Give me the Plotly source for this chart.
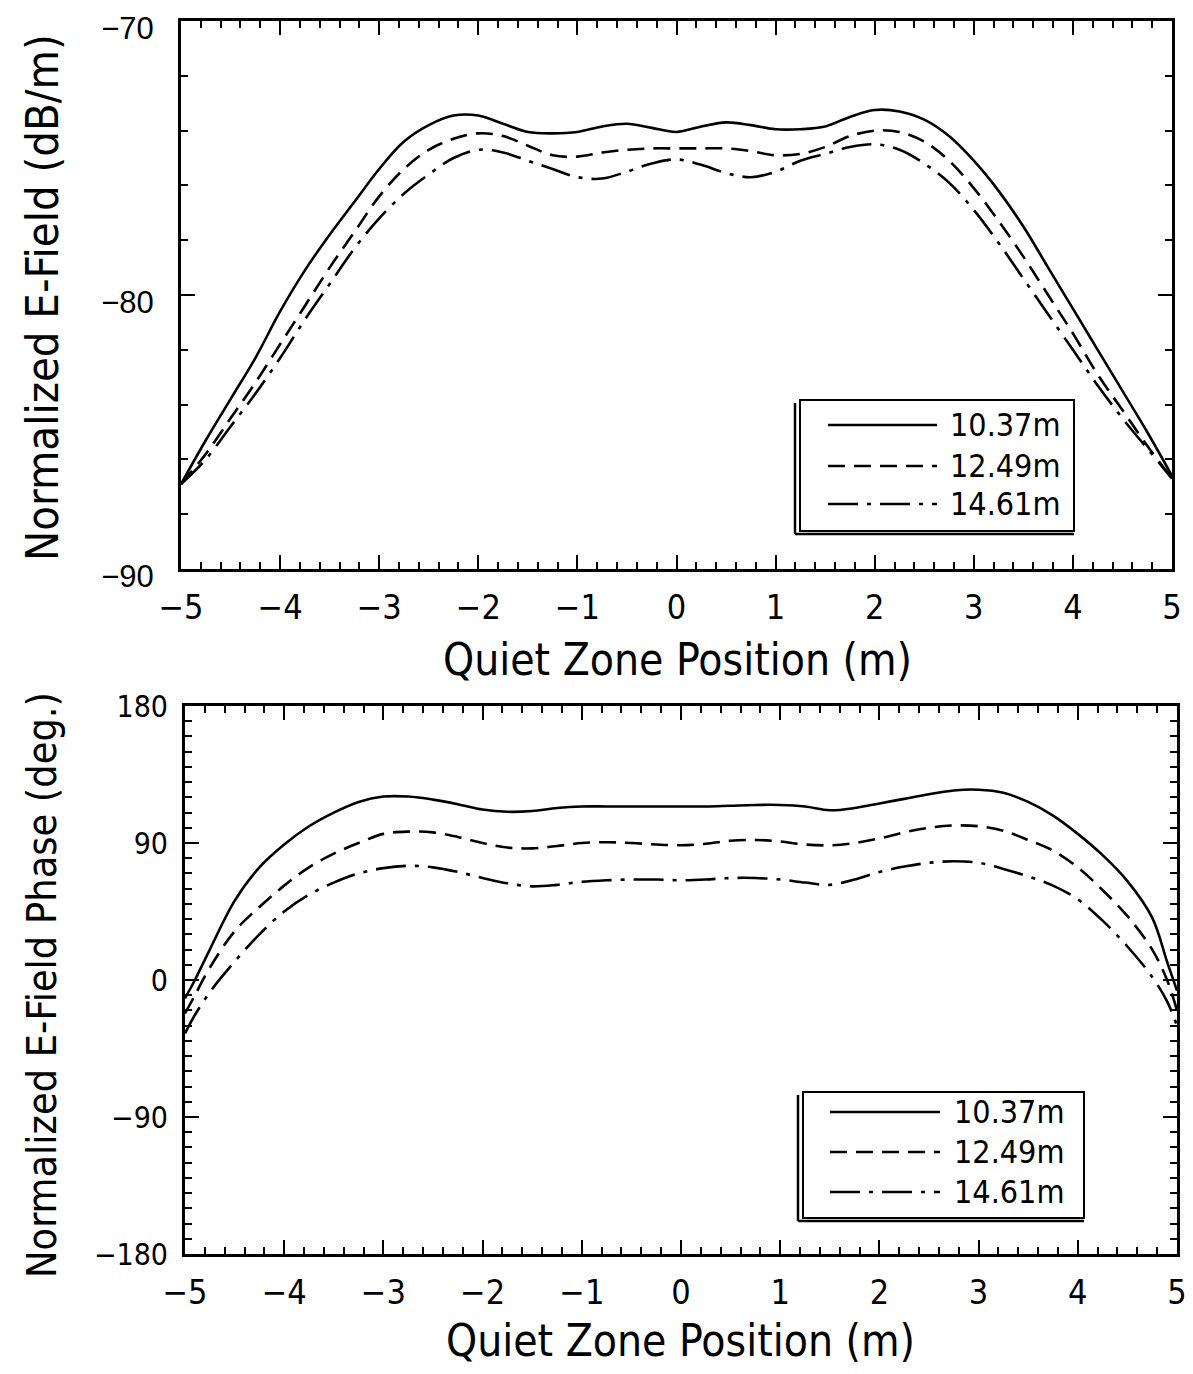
import plotly.graph_objects as go

# ---------------- data ----------------
x_top = [-5, -4.75, -4.5, -4.25, -4, -3.75, -3.5, -3.25, -3, -2.75, -2.5, -2.25, -2, -1.75, -1.5, -1.25,
         -1, -0.75, -0.5, -0.25, 0, 0.25, 0.5, 0.75, 1, 1.25, 1.5, 1.75, 2, 2.25, 2.5, 2.75, 3, 3.25,
         3.5, 3.75, 4, 4.25, 4.5, 4.75, 5]
mag_1037 = [-86.9, -85.3, -83.8, -82.3, -80.6, -79.1, -77.8, -76.6, -75.4, -74.4, -73.8, -73.45, -73.45,
            -73.75, -74.05, -74.1, -74.05, -73.85, -73.75, -73.9, -74.05, -73.85, -73.7, -73.8, -73.95,
            -73.95, -73.85, -73.5, -73.25, -73.3, -73.6, -74.2, -75.1, -76.2, -77.5, -79.0, -80.5,
            -82.0, -83.5, -85.0, -86.6]
mag_1249 = [-86.9, -85.8, -84.5, -83.2, -81.8, -80.4, -79.0, -77.7, -76.4, -75.4, -74.7, -74.3, -74.1,
            -74.2, -74.55, -74.9, -74.95, -74.8, -74.7, -74.65, -74.65, -74.65, -74.65, -74.75, -74.9,
            -74.85, -74.6, -74.2, -74.0, -74.05, -74.4, -75.1, -76.1, -77.3, -78.6, -80.0, -81.4,
            -82.9, -84.2, -85.5, -86.7]
mag_1461 = [-86.9, -86.0, -84.8, -83.6, -82.3, -80.9, -79.6, -78.3, -77.2, -76.3, -75.6, -75.0, -74.7,
            -74.8, -75.1, -75.4, -75.7, -75.75, -75.5, -75.2, -75.05, -75.25, -75.55, -75.7, -75.5,
            -75.1, -74.85, -74.6, -74.5, -74.7, -75.2, -75.9, -76.9, -78.1, -79.4, -80.7, -82.0,
            -83.3, -84.5, -85.6, -86.7]

x_bot = [-5, -4.9, -4.75, -4.5, -4.25, -4, -3.75, -3.5, -3.25, -3, -2.75, -2.5, -2.25, -2, -1.75, -1.5,
         -1.25, -1, -0.75, -0.5, -0.25, 0, 0.25, 0.5, 0.75, 1, 1.25, 1.5, 1.75, 2, 2.25, 2.5, 2.75, 3,
         3.25, 3.5, 3.75, 4, 4.25, 4.5, 4.75, 4.9, 5]
ph_1037 = [-12, 0, 20, 52, 74, 89, 101, 110, 117, 120.5, 120.5, 118.5, 115.5, 112, 110.5, 111, 113, 114,
           114, 114, 114, 114, 114, 114.5, 115, 115, 114, 111.5, 113, 116, 119, 122, 124.5, 125, 123,
           117, 108, 96, 82, 65, 41, 12, -7]
ph_1249 = [-22, -10, 8, 32, 48, 62, 74, 83, 90, 96, 97.5, 97, 94, 90, 87, 86.5, 88, 90, 90.5, 90, 89,
           88.5, 89.5, 91.5, 92, 91, 89, 88.5, 90, 93, 97, 100, 101.5, 101, 98, 92, 85, 74, 59, 42, 20,
           0, -20]
ph_1461 = [-35, -23, -8, 12, 30, 45, 56, 64, 70, 73.5, 75, 74, 71, 67, 63.5, 61.5, 62.5, 64.5, 65.5, 66,
           66, 65.5, 66, 67, 67, 66, 64, 62.5, 66, 71, 74.5, 77, 78, 77, 73, 68, 62, 53, 39, 22, 2,
           -14, -30]

series_names = ["10.37m", "12.49m", "14.61m"]
x_ticks = [-5, -4, -3, -2, -1, 0, 1, 2, 3, 4, 5]
mag_ticks = [-90, -80, -70]
ph_ticks = [-180, -90, 0, 90, 180]

# ---------------- styling ----------------
OFF = 8  # page body margin
W, H = 1193 - OFF, 1374 - OFF
COND = "DejaVu Sans Condensed, DejaVu Sans, sans-serif"
REG = "Liberation Sans, Arial, sans-serif"
dashes = ["solid", "17px,9px", "30px,9px,4px,9px"]
LW = 2.6


def px(x):
    return (x - OFF) / W


def py(y):
    return 1 - (y - OFF) / H


fig = go.Figure()
for ys, nm, ds in zip([mag_1037, mag_1249, mag_1461], series_names, dashes):
    fig.add_trace(go.Scatter(x=x_top, y=ys, name=nm, mode="lines", line_shape="spline",
                             line=dict(color="black", width=LW, dash=ds), showlegend=False,
                             xaxis="x", yaxis="y"))
for ys, nm, ds in zip([ph_1037, ph_1249, ph_1461], series_names, dashes):
    fig.add_trace(go.Scatter(x=x_bot, y=ys, name=nm, mode="lines", line_shape="spline",
                             line=dict(color="black", width=LW, dash=ds), showlegend=False,
                             xaxis="x2", yaxis="y2"))

common_axis = dict(showline=True, linewidth=3, linecolor="black", mirror="ticks", ticks="inside",
                   ticklen=14, tickwidth=2, tickcolor="black", showgrid=False, zeroline=False,
                   automargin=False, ticklabeloverflow="allow")

fig.update_layout(
    width=W, height=H, autosize=False,
    margin=dict(l=0, r=0, t=0, b=0),
    paper_bgcolor="white", plot_bgcolor="white",
    xaxis=dict(domain=[px(181), px(1172)], range=[-5, 5], tickvals=x_ticks, anchor="y",
               minor=dict(dtick=0.2, ticklen=7, tickwidth=1.5, ticks="inside", tickcolor="black"),
               tickfont=dict(family=COND, size=34, color="black"), ticklabelstandoff=6,
               **common_axis),
    yaxis=dict(domain=[py(569), py(21)], range=[-90, -70], tickvals=mag_ticks, anchor="x",
               minor=dict(dtick=2, ticklen=7, tickwidth=1.5, ticks="inside", tickcolor="black"),
               tickfont=dict(family=REG, size=31, color="black"), ticklabelstandoff=18,
               ticklabelshift=7, **common_axis),
    xaxis2=dict(domain=[px(185), px(1177)], range=[-5, 5], tickvals=x_ticks, anchor="y2",
                minor=dict(dtick=0.2, ticklen=7, tickwidth=1.5, ticks="inside", tickcolor="black"),
                tickfont=dict(family=COND, size=34, color="black"), ticklabelstandoff=6,
                **common_axis),
    yaxis2=dict(domain=[py(1254), py(706)], range=[-180, 180], tickvals=ph_ticks, anchor="x2",
                minor=dict(dtick=10, ticklen=7, tickwidth=1.5, ticks="inside", tickcolor="black"),
                tickfont=dict(family=COND, size=30, color="black"), ticklabelstandoff=8,
                **common_axis),
)

annotations = [
    dict(text="Normalized E-Field (dB/m)", x=px(42), y=py(298), textangle=-90, size=45),
    dict(text="Quiet Zone Position (m)", x=px(677), y=py(660), size=44),
    dict(text="Normalized E-Field Phase (deg.)", x=px(42), y=py(985), textangle=-90, size=41),
    dict(text="Quiet Zone Position (m)", x=px(680), y=py(1340), size=44),
]
for a in annotations:
    sz = a.pop("size")
    a.update(xref="paper", yref="paper", showarrow=False, xanchor="center", yanchor="middle",
             font=dict(family=COND, size=sz, color="black"))

shapes = []


def add_legend(left, top, right, bottom, rows, line_x0, line_x1, text_x):
    # frame and shadow
    shapes.append(dict(type="rect", xref="paper", yref="paper", x0=px(left), x1=px(right),
                       y0=py(bottom), y1=py(top), line=dict(color="black", width=2),
                       fillcolor="white", layer="above"))
    shapes.append(dict(type="line", xref="paper", yref="paper", x0=px(left - 5), x1=px(left - 5),
                       y0=py(top + 3), y1=py(bottom + 3), line=dict(color="black", width=2.5)))
    shapes.append(dict(type="line", xref="paper", yref="paper", x0=px(left - 5), x1=px(right),
                       y0=py(bottom + 3), y1=py(bottom + 3), line=dict(color="black", width=2.5)))
    for yy, nm, ds in zip(rows, series_names, dashes):
        shapes.append(dict(type="line", xref="paper", yref="paper", x0=px(line_x0), x1=px(line_x1),
                           y0=py(yy), y1=py(yy), line=dict(color="black", width=LW, dash=ds)))
        annotations.append(dict(text=nm, xref="paper", yref="paper", x=px(text_x), y=py(yy),
                                xanchor="left", yanchor="middle", showarrow=False,
                                font=dict(family=COND, size=32, color="black")))


add_legend(800, 400, 1074, 531, [425, 466, 504], 828, 937, 948)
add_legend(803, 1092, 1084, 1218, [1112, 1152, 1192], 830, 940, 952)

fig.update_layout(annotations=annotations, shapes=shapes)
fig.write_html("out.html")
